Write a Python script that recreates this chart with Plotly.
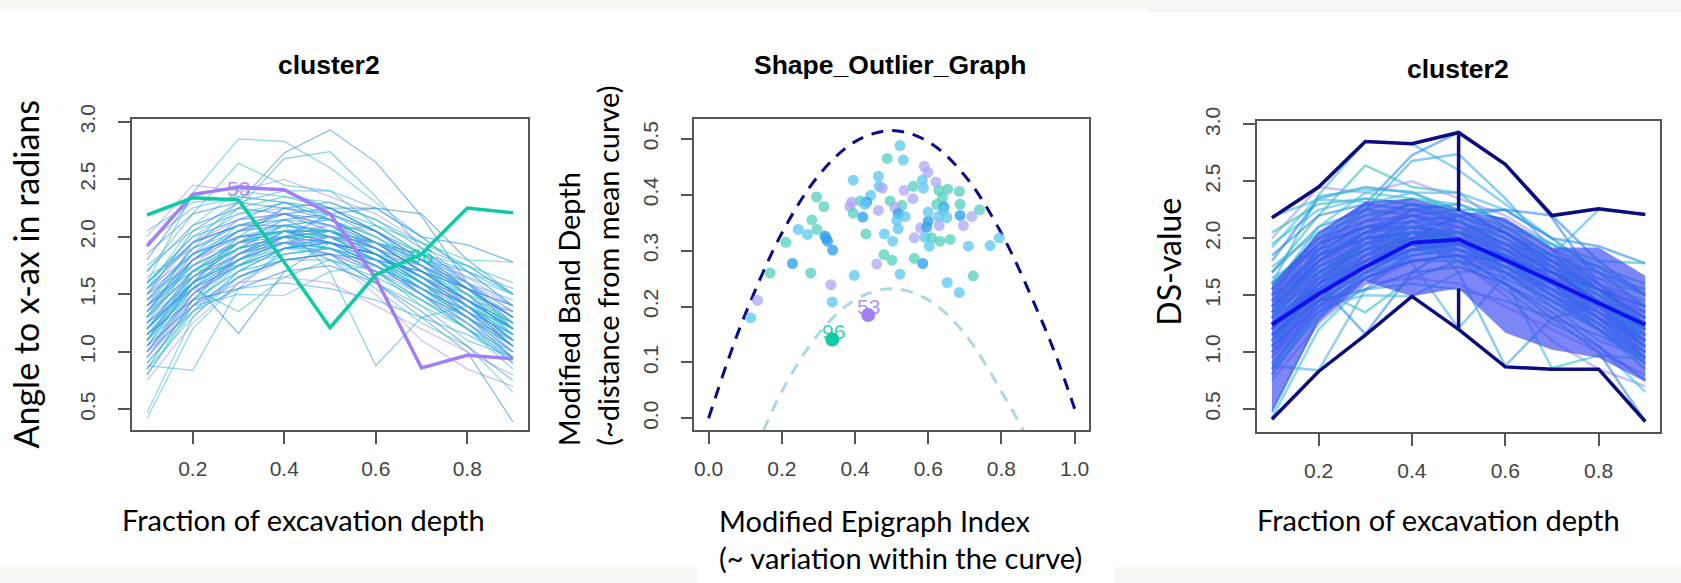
import plotly.graph_objects as go

W, H = 1681, 583

# ---------------- data ----------------
depth = [0.1, 0.2, 0.3, 0.4, 0.5, 0.6, 0.7, 0.8, 0.9]

curve_53 = [1.92, 2.37, 2.43, 2.41, 2.20, 1.64, 0.86, 0.97, 0.94]
curve_96 = [2.19, 2.34, 2.32, 1.78, 1.21, 1.67, 1.85, 2.25, 2.21]

curves = [
    [1.60, 2.38, 2.85, 2.83, 2.60, 2.30, 2.00, 1.70, 1.40],
    [1.50, 2.05, 2.30, 2.73, 2.93, 2.65, 2.18, 1.60, 1.20],
    [1.70, 2.20, 2.64, 2.45, 2.40, 2.10, 1.85, 1.55, 1.30],
    [1.40, 1.90, 2.25, 2.68, 2.74, 2.35, 1.90, 1.75, 1.50],
    [2.00, 2.45, 2.40, 2.50, 2.35, 2.20, 1.95, 1.60, 1.40],
    [1.55, 1.95, 2.10, 2.20, 2.25, 2.25, 2.20, 1.80, 1.50],
    [0.42, 1.20, 1.60, 1.85, 1.90, 1.70, 1.45, 1.20, 0.90],
    [0.88, 0.84, 1.55, 1.90, 1.85, 1.60, 1.40, 1.10, 0.95],
    [1.20, 1.60, 1.16, 1.70, 1.95, 1.80, 1.50, 1.30, 1.10],
    [1.10, 1.55, 1.35, 1.65, 1.80, 1.70, 1.40, 1.20, 1.00],
    [1.30, 1.80, 2.05, 2.10, 1.70, 0.88, 1.30, 1.40, 1.10],
    [1.20, 1.70, 1.90, 2.00, 1.80, 1.50, 1.10, 0.85, 0.70],
    [1.00, 1.50, 1.80, 1.95, 1.85, 1.60, 1.30, 1.00, 0.39],
    [1.10, 1.60, 1.85, 1.95, 1.80, 1.55, 1.25, 1.05, 0.65],
    [0.95, 1.40, 1.50, 1.49, 1.70, 1.75, 1.55, 1.30, 1.05],
    [1.30, 1.70, 1.95, 2.05, 2.00, 1.85, 1.60, 1.40, 1.15],
    [1.10, 1.55, 1.85, 2.00, 2.05, 1.90, 1.70, 1.45, 1.20],
    [1.45, 1.85, 2.05, 2.15, 2.10, 1.95, 1.75, 1.55, 1.30],
    [0.95, 1.45, 1.80, 1.95, 1.95, 1.80, 1.55, 1.30, 1.05],
    [1.60, 2.00, 2.15, 2.20, 2.10, 1.90, 1.65, 1.40, 1.10],
    [1.20, 1.65, 1.90, 2.10, 2.15, 2.00, 1.80, 1.60, 1.35],
    [0.80, 1.35, 1.70, 1.90, 1.95, 1.85, 1.65, 1.45, 1.25],
    [1.35, 1.80, 2.00, 2.05, 1.95, 1.75, 1.50, 1.25, 0.95],
    [1.50, 1.75, 1.95, 2.10, 2.05, 1.85, 1.65, 1.50, 1.35],
    [1.05, 1.50, 1.75, 1.85, 1.90, 1.75, 1.55, 1.35, 1.10],
    [1.25, 1.60, 1.85, 2.00, 2.10, 2.05, 1.85, 1.65, 1.40],
    [1.70, 2.10, 2.25, 2.20, 2.05, 1.85, 1.60, 1.35, 1.05],
    [0.90, 1.40, 1.75, 2.00, 2.00, 1.80, 1.50, 1.20, 0.90],
    [1.40, 1.70, 1.90, 1.95, 1.90, 1.80, 1.70, 1.55, 1.40],
    [1.15, 1.60, 1.95, 2.15, 2.20, 2.05, 1.80, 1.50, 1.15],
    [1.55, 1.95, 2.20, 2.30, 2.20, 2.00, 1.75, 1.50, 1.20],
    [1.00, 1.45, 1.70, 1.80, 1.80, 1.65, 1.45, 1.25, 1.00],
    [1.30, 1.75, 2.05, 2.25, 2.20, 2.05, 1.80, 1.55, 1.25],
    [1.85, 2.20, 2.30, 2.25, 2.15, 1.95, 1.70, 1.45, 1.20],
    [0.85, 1.30, 1.65, 1.85, 1.90, 1.80, 1.60, 1.40, 1.20],
    [1.20, 1.55, 1.80, 1.95, 1.95, 1.85, 1.75, 1.60, 1.45],
    [1.45, 1.90, 2.10, 2.15, 2.00, 1.80, 1.55, 1.30, 1.00],
    [1.10, 1.65, 1.95, 2.05, 2.05, 1.95, 1.70, 1.45, 1.15],
    [1.35, 1.65, 1.85, 2.00, 2.05, 1.95, 1.80, 1.70, 1.55],
    [0.75, 1.25, 1.60, 1.80, 1.85, 1.75, 1.50, 1.25, 0.95],
    [1.60, 1.95, 2.10, 2.10, 2.00, 1.90, 1.75, 1.55, 1.30],
    [1.25, 1.80, 2.10, 2.20, 2.10, 1.85, 1.55, 1.25, 0.90],
    [1.00, 1.55, 1.90, 2.10, 2.15, 2.00, 1.75, 1.45, 1.10],
    [1.40, 1.75, 1.95, 2.00, 1.95, 1.85, 1.65, 1.45, 1.25],
    [2.05, 2.30, 2.35, 2.30, 2.15, 1.95, 1.70, 1.50, 1.25],
    [1.15, 1.50, 1.75, 1.90, 2.00, 1.95, 1.85, 1.70, 1.50],
    [0.95, 1.50, 1.85, 2.05, 2.10, 1.95, 1.70, 1.40, 1.05],
    [1.50, 1.85, 2.00, 2.05, 1.95, 1.75, 1.55, 1.35, 1.15],
    [1.30, 1.60, 1.80, 1.90, 1.90, 1.80, 1.60, 1.40, 1.20],
    [1.75, 2.05, 2.20, 2.25, 2.20, 2.05, 1.85, 1.60, 1.30],
    [1.05, 1.60, 2.00, 2.25, 2.30, 2.15, 1.90, 1.60, 1.25],
    [1.20, 1.70, 1.95, 2.05, 2.00, 1.80, 1.60, 1.40, 1.20],
    [0.90, 1.35, 1.65, 1.80, 1.85, 1.70, 1.50, 1.30, 1.05],
    [1.45, 1.80, 1.95, 1.95, 1.85, 1.70, 1.55, 1.45, 1.35],
    [1.35, 1.85, 2.15, 2.30, 2.25, 2.05, 1.75, 1.40, 1.05],
    [1.10, 1.45, 1.70, 1.90, 2.00, 1.95, 1.80, 1.55, 1.25],
    [1.65, 1.90, 2.05, 2.10, 2.05, 1.95, 1.80, 1.65, 1.50],
    [1.25, 1.65, 1.90, 2.00, 1.95, 1.85, 1.65, 1.40, 1.10],
    [0.80, 1.40, 1.80, 2.05, 2.05, 1.90, 1.60, 1.30, 1.00],
    [1.55, 1.85, 2.00, 2.00, 1.90, 1.70, 1.45, 1.20, 0.95],
    [1.00, 1.50, 1.80, 1.95, 2.00, 1.90, 1.75, 1.55, 1.30],
    [1.40, 1.80, 2.05, 2.20, 2.15, 1.95, 1.70, 1.45, 1.20],
    [1.20, 1.60, 1.85, 1.95, 1.90, 1.75, 1.55, 1.35, 1.15],
    [1.95, 2.25, 2.35, 2.30, 2.15, 1.90, 1.65, 1.40, 1.15],
    [0.85, 1.45, 1.85, 2.05, 2.05, 1.90, 1.65, 1.35, 1.05],
    [1.30, 1.70, 1.90, 2.00, 2.00, 1.95, 1.85, 1.75, 1.60],
    [1.15, 1.55, 1.80, 1.95, 1.90, 1.75, 1.50, 1.20, 0.85],
    [1.50, 1.95, 2.15, 2.20, 2.10, 1.90, 1.65, 1.35, 1.00],
    [1.05, 1.40, 1.65, 1.80, 1.85, 1.80, 1.70, 1.55, 1.40],
    [1.35, 1.75, 1.95, 2.05, 2.05, 1.95, 1.75, 1.50, 1.20],
    [0.47, 1.30, 1.70, 1.90, 1.95, 1.80, 1.55, 1.30, 1.05],
    [1.25, 1.55, 1.75, 1.90, 1.95, 1.85, 1.60, 1.30, 0.95],
    [1.60, 2.00, 2.25, 2.35, 2.25, 2.10, 1.85, 1.55, 1.20],
    [1.10, 1.70, 2.00, 2.10, 2.05, 1.90, 1.65, 1.40, 1.10],
    [1.40, 1.65, 1.85, 1.95, 2.00, 1.95, 1.80, 1.60, 1.35],
    [1.80, 2.35, 2.45, 2.40, 2.25, 2.05, 1.80, 1.55, 1.30],
    [1.55, 2.10, 2.40, 2.35, 2.30, 2.15, 1.95, 1.75, 1.50],
    [1.30, 1.95, 2.30, 2.40, 2.40, 2.25, 2.00, 1.70, 1.40],
    [1.20, 1.60, 1.80, 2.00, 2.20, 2.25, 2.00, 1.93, 1.78],
    [1.45, 1.70, 1.75, 1.95, 2.05, 2.10, 1.95, 1.80, 1.78],
    [1.00, 1.35, 1.55, 1.60, 1.55, 1.45, 1.30, 1.15, 0.95],
    [0.95, 1.40, 1.60, 1.65, 1.60, 1.40, 1.20, 1.00, 0.80],
    [1.15, 1.45, 1.55, 1.70, 1.75, 1.60, 1.35, 1.05, 0.75],
]

# functional boxplot (right panel)
fb_median = [1.24, 1.51, 1.75, 1.96, 1.99, 1.81, 1.62, 1.43, 1.24]
fb_box_upper = [1.59, 2.05, 2.32, 2.35, 2.24, 2.18, 1.92, 1.92, 1.67]
fb_box_lower = [0.47, 1.26, 1.62, 1.49, 1.56, 1.17, 1.02, 0.95, 0.74]
fb_env_upper = [2.18, 2.45, 2.85, 2.83, 2.93, 2.65, 2.20, 2.26, 2.21]
fb_env_lower = [0.41, 0.83, 1.15, 1.49, 1.20, 0.87, 0.85, 0.85, 0.39]
whisker_x = 0.5

# shape outlier graph (middle panel)
mei = [0.523, 0.488, 0.532, 0.589, 0.599, 0.584, 0.395, 0.464, 0.621, 0.466,
       0.475, 0.559, 0.587, 0.534, 0.629, 0.653, 0.685, 0.295, 0.443, 0.639,
       0.558, 0.496, 0.414, 0.432, 0.391, 0.315, 0.528, 0.623, 0.687, 0.643,
       0.386, 0.509, 0.464, 0.740, 0.395, 0.421, 0.518, 0.537, 0.628, 0.651,
       0.687, 0.719, 0.696, 0.282, 0.514, 0.600, 0.579, 0.630, 0.245, 0.270,
       0.296, 0.518, 0.596, 0.318, 0.325, 0.430, 0.480, 0.562, 0.591, 0.609,
       0.632, 0.660, 0.794, 0.769, 0.211, 0.503, 0.603, 0.710, 0.339, 0.479,
       0.501, 0.562, 0.585, 0.459, 0.229, 0.168, 0.279, 0.398, 0.523, 0.723,
       0.652, 0.685, 0.334, 0.338, 0.134, 0.115, 0.321, 0.427, 0.641, 0.600]
mbd = [0.488, 0.465, 0.462, 0.451, 0.440, 0.426, 0.426, 0.433, 0.423, 0.415,
       0.412, 0.415, 0.412, 0.408, 0.408, 0.410, 0.406, 0.396, 0.399, 0.395,
       0.393, 0.389, 0.389, 0.387, 0.387, 0.379, 0.381, 0.383, 0.383, 0.378,
       0.379, 0.377, 0.372, 0.373, 0.367, 0.360, 0.366, 0.361, 0.361, 0.359,
       0.363, 0.361, 0.345, 0.355, 0.354, 0.353, 0.341, 0.345, 0.338, 0.329,
       0.338, 0.339, 0.342, 0.326, 0.317, 0.330, 0.330, 0.323, 0.324, 0.323,
       0.317, 0.320, 0.323, 0.309, 0.315, 0.317, 0.308, 0.308, 0.301, 0.293,
       0.283, 0.286, 0.277, 0.276, 0.277, 0.260, 0.260, 0.256, 0.258, 0.255,
       0.243, 0.225, 0.239, 0.208, 0.211, 0.180, 0.322, 0.383, 0.372, 0.369]
grp = ["S", "T", "S", "L", "L", "S", "S", "S", "L", "S",
       "L", "T", "S", "L", "T", "T", "T", "T", "S", "T",
       "L", "T", "T", "B", "L", "T", "T", "T", "T", "B",
       "L", "L", "L", "T", "T", "B", "B", "S", "S", "S",
       "B", "L", "L", "T", "S", "B", "L", "L", "S", "S",
       "T", "S", "B", "B", "B", "T", "S", "L", "S", "T",
       "T", "T", "S", "S", "T", "S", "S", "S", "B", "T",
       "T", "T", "B", "L", "B", "T", "T", "S", "S", "T",
       "S", "S", "L", "S", "L", "S", "B", "S", "S", "S"]
out_mei = [0.338, 0.436]
out_mbd = [0.141, 0.185]
out_lab = ["96", "53"]

bound_x = [0.0, 0.05, 0.1, 0.2, 0.3, 0.4, 0.5, 0.6, 0.7, 0.8, 0.9, 0.95, 1.0]
bound_upper = [0.0, 0.098, 0.186, 0.331, 0.434, 0.495, 0.515, 0.495, 0.434, 0.331, 0.190, 0.110, 0.017]
inner_x = [0.15, 0.2, 0.3, 0.4, 0.5, 0.6, 0.7, 0.8, 0.86]
inner_y = [-0.022, 0.048, 0.151, 0.212, 0.232, 0.212, 0.151, 0.048, -0.022]

x_ticks_depth = [0.2, 0.4, 0.6, 0.8]
y_ticks_angle = [0.5, 1.0, 1.5, 2.0, 2.5, 3.0]
x_ticks_mei = [0.0, 0.2, 0.4, 0.6, 0.8, 1.0]
y_ticks_mbd = [0.0, 0.1, 0.2, 0.3, 0.4, 0.5]

# ---------------- style ----------------
line_palette = ["rgba(70,180,235,0.6)", "rgba(40,140,235,0.6)", "rgba(50,192,182,0.6)",
                "rgba(60,168,235,0.6)", "rgba(160,140,250,0.55)", "rgba(30,128,230,0.55)",
                "rgba(55,196,215,0.6)"]
pt_colors = {"T": "rgba(88,210,192,0.78)", "S": "rgba(98,200,243,0.78)",
             "B": "rgba(50,162,236,0.8)", "L": "rgba(172,167,250,0.75)"}
C53 = "#a27ef8"
C96 = "#0fcba5"

fig = go.Figure()

def px(x):
    return x / W

def py(y):
    return 1 - y / H

# panel 1 curves
for i, c in enumerate(curves):
    fig.add_trace(go.Scatter(x=depth, y=c, mode="lines", xaxis="x", yaxis="y",
                             line=dict(color=line_palette[i % len(line_palette)], width=1.2),
                             hoverinfo="skip", showlegend=False))
fig.add_trace(go.Scatter(x=depth, y=curve_53, mode="lines", xaxis="x", yaxis="y",
                         line=dict(color=C53, width=3.5), showlegend=False))
fig.add_trace(go.Scatter(x=depth, y=curve_96, mode="lines", xaxis="x", yaxis="y",
                         line=dict(color=C96, width=3.5), showlegend=False))

# panel 3 curves
all3 = curves + [curve_53, curve_96]
for i, c in enumerate(all3):
    fig.add_trace(go.Scatter(x=depth, y=c, mode="lines", xaxis="x3", yaxis="y3",
                             line=dict(color=line_palette[i % len(line_palette)], width=2.5),
                             hoverinfo="skip", showlegend=False))
fig.add_trace(go.Scatter(x=depth + depth[::-1], y=fb_box_upper + fb_box_lower[::-1],
                         mode="lines", fill="toself", fillcolor="rgba(58,72,242,0.66)",
                         line=dict(width=0, color="rgba(0,0,0,0)"),
                         xaxis="x3", yaxis="y3", showlegend=False))
wi = depth.index(whisker_x)
for env, box in ((fb_env_upper, fb_box_upper), (fb_env_lower, fb_box_lower)):
    fig.add_trace(go.Scatter(x=depth, y=env, mode="lines", xaxis="x3", yaxis="y3",
                             line=dict(color="#0c0c80", width=3.5), showlegend=False))
    fig.add_trace(go.Scatter(x=[whisker_x, whisker_x], y=[env[wi], box[wi]], mode="lines",
                             xaxis="x3", yaxis="y3",
                             line=dict(color="#0c0c80", width=3.5), showlegend=False))
fig.add_trace(go.Scatter(x=depth, y=fb_median, mode="lines", xaxis="x3", yaxis="y3",
                         line=dict(color="#1010ee", width=4), showlegend=False))

# panel 2
fig.add_trace(go.Scatter(x=bound_x, y=bound_upper, mode="lines", xaxis="x2", yaxis="y2",
                         line=dict(color="#0a0a8a", width=3, dash="12px,9px", shape="spline"),
                         showlegend=False))
fig.add_trace(go.Scatter(x=inner_x, y=inner_y, mode="lines", xaxis="x2", yaxis="y2",
                         line=dict(color="#acd8e6", width=3, dash="12px,9px", shape="spline"),
                         showlegend=False))
fig.add_trace(go.Scatter(x=mei, y=mbd, mode="markers", xaxis="x2", yaxis="y2",
                         marker=dict(size=11, color=[pt_colors[g] for g in grp], line=dict(width=0)),
                         showlegend=False))
fig.add_trace(go.Scatter(x=out_mei, y=out_mbd, mode="markers", xaxis="x2", yaxis="y2",
                         marker=dict(size=14, color=[C96, C53], line=dict(width=0)),
                         showlegend=False))

tickfont = dict(family="Liberation Sans, Arial, sans-serif", size=21, color="#444")
axis_common = dict(showline=True, mirror=True, linecolor="#555", linewidth=1.6,
                   ticks="outside", ticklen=12, tickwidth=1.5, tickcolor="#555",
                   showgrid=False, zeroline=False, tickfont=tickfont)

fig.update_layout(
    width=W, height=H, margin=dict(l=0, r=0, t=0, b=0, autoexpand=False),
    paper_bgcolor="#f7f6f2", plot_bgcolor="white", showlegend=False,
    xaxis=dict(domain=[px(132.1), px(527.9)], range=[0.0675, 0.9325], anchor="y",
               tickvals=x_ticks_depth, ticktext=[f"{v:.1f}" for v in x_ticks_depth],
               ticklabelstandoff=7, **axis_common),
    yaxis=dict(domain=[py(430.3), py(119.3)], range=[0.318, 3.022], anchor="x",
               tickvals=y_ticks_angle, ticktext=[f"{v:.1f}" for v in y_ticks_angle],
               tickangle=-90, ticklabelstandoff=15, **axis_common),
    xaxis2=dict(domain=[px(694.3), px(1089.3)], range=[-0.039, 1.04], anchor="y2",
                tickvals=x_ticks_mei, ticktext=[f"{v:.1f}" for v in x_ticks_mei],
                ticklabelstandoff=7, **axis_common),
    yaxis2=dict(domain=[py(430.3), py(119.3)], range=[-0.0214, 0.535], anchor="x2",
                tickvals=y_ticks_mbd, ticktext=[f"{v:.1f}" for v in y_ticks_mbd],
                tickangle=-90, ticklabelstandoff=14, **axis_common),
    xaxis3=dict(domain=[px(1256.8), px(1660)], range=[0.0676, 0.9315], anchor="y3",
                tickvals=x_ticks_depth, ticktext=[f"{v:.1f}" for v in x_ticks_depth],
                ticklabelstandoff=7, **axis_common),
    yaxis3=dict(domain=[py(432), py(121.4)], range=[0.298, 3.027], anchor="x3",
                tickvals=y_ticks_angle, ticktext=[f"{v:.1f}" for v in y_ticks_angle],
                tickangle=-90, ticklabelstandoff=15, **axis_common),
)

# background (white picture areas on off-white page)
shapes = [
    dict(x0=0, x1=px(1147), y0=py(567), y1=py(9)),
    dict(x0=px(1147), x1=1, y0=py(567), y1=py(12)),
    dict(x0=px(697), x1=px(1115), y0=0, y1=py(566)),
]
for s in shapes:
    fig.add_shape(type="rect", xref="paper", yref="paper", layer="below",
                  fillcolor="white", line=dict(width=0), **s)

title_font = dict(family="Liberation Sans, Arial, sans-serif", size=26.5, color="black")
label_font = dict(family="Lato, Carlito, sans-serif", size=29, color="black")
label_font_big = dict(family="Lato, Carlito, sans-serif", size=34, color="black")
label_font_ds = dict(family="Lato, Carlito, sans-serif", size=32, color="black")

def ann(text, x, y, font, xanchor="center", yanchor="middle", angle=0):
    fig.add_annotation(text=text, x=px(x), y=py(y), xref="paper", yref="paper",
                       showarrow=False, font=font, xanchor=xanchor, yanchor=yanchor,
                       textangle=angle)

ann("<b>cluster2</b>", 328.6, 64.8, title_font)
ann("<b>Shape_Outlier_Graph</b>", 890.4, 64.8, title_font)
ann("<b>cluster2</b>", 1457.5, 68.6, title_font)
ann("Angle to x-ax in radians", 25, 274.5, label_font_big, angle=-90)
ann("Fraction of excavation depth", 303.6, 519, label_font)
ann("Modified Band Depth", 568.3, 448, label_font, yanchor="bottom", angle=-90)
ann("(~distance from mean curve)", 606.7, 448, label_font, yanchor="bottom", angle=-90)
ann("Modified Epigraph Index", 717, 520, label_font, xanchor="left")
ann("(~ variation within the curve)", 717, 557, label_font, xanchor="left")
ann("DS-value", 1168.2, 261.5, label_font_ds, angle=-90)
ann("Fraction of excavation depth", 1438.8, 519, label_font)

# outlier labels
lab_font53 = dict(family="Liberation Sans, Arial, sans-serif", size=21, color="rgba(162,126,248,0.85)")
lab_font96 = dict(family="Liberation Sans, Arial, sans-serif", size=21, color="rgba(15,203,165,0.85)")
fig.add_annotation(text="53", x=0.299, y=2.42, xref="x", yref="y", showarrow=False, font=lab_font53)
fig.add_annotation(text="96", x=0.70, y=1.84, xref="x", yref="y", showarrow=False, font=lab_font96)
fig.add_annotation(text=out_lab[1], x=out_mei[1], y=0.2, xref="x2", yref="y2", showarrow=False, font=lab_font53)
fig.add_annotation(text=out_lab[0], x=out_mei[0] + 0.003, y=0.155, xref="x2", yref="y2", showarrow=False, font=lab_font96)

fig.write_html("out.html")
